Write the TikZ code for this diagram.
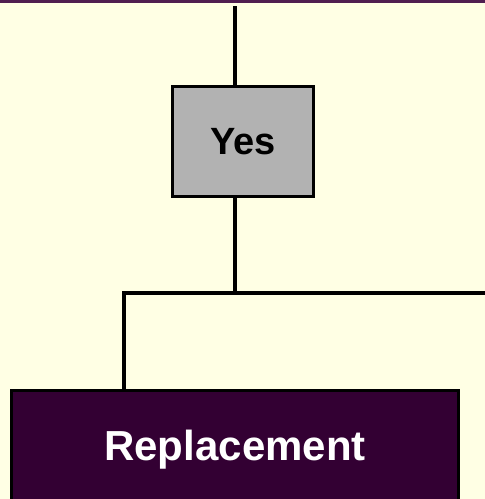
\documentclass[tikz,border=0pt]{standalone}
\usepackage{fontspec}
\setmainfont{Liberation Sans}
\usetikzlibrary{positioning}
\definecolor{paperyellow}{RGB}{255, 255, 228}
\definecolor{plumdark}{RGB}{51, 0, 51}
\definecolor{plumedge}{RGB}{80, 30, 80}
\definecolor{answergray}{RGB}{178, 178, 178}

\begin{document}
\begin{tikzpicture}[
    x=1pt, y=-1pt,
    answer/.style  = {rectangle, draw, line width=3pt, fill=answergray,
                      minimum width=141pt, minimum height=110pt,
                      font=\fontsize{38}{44}\selectfont\bfseries, align=center},
    outcome/.style = {rectangle, draw, line width=3pt, fill=plumdark, text=white,
                      minimum width=447pt, minimum height=119pt,
                      font=\fontsize{42}{48}\selectfont\bfseries, align=center},
    link/.style    = {line width=4.5pt, line cap=rect},
  ]

  %% Page
  \useasboundingbox (0,0) rectangle (485,499);
  \clip (0,0) rectangle (485,499);
  \fill[paperyellow] (0,0) rectangle (485,499);
  \fill[plumedge] (0,0) rectangle (485,2.5);

  %% Boxes
  \node[answer]  (yes)         at (243,141.5) {Yes};
  \node[outcome] (replacement) at (235,450)   {Replacement};

  %% Junction points
  \coordinate (top)   at (235,8);
  \coordinate (split) at (235,293);
  \coordinate (left)  at (124,293);
  \coordinate (right) at (487,293);

  %% Connectors
  \draw[link] (top) -- (top |- yes.north);
  \draw[link] (split |- yes.south) -- (split);
  \draw[link] (left) -- (right);
  \draw[link] (left) -- (left |- replacement.north);

\end{tikzpicture}
\end{document}
